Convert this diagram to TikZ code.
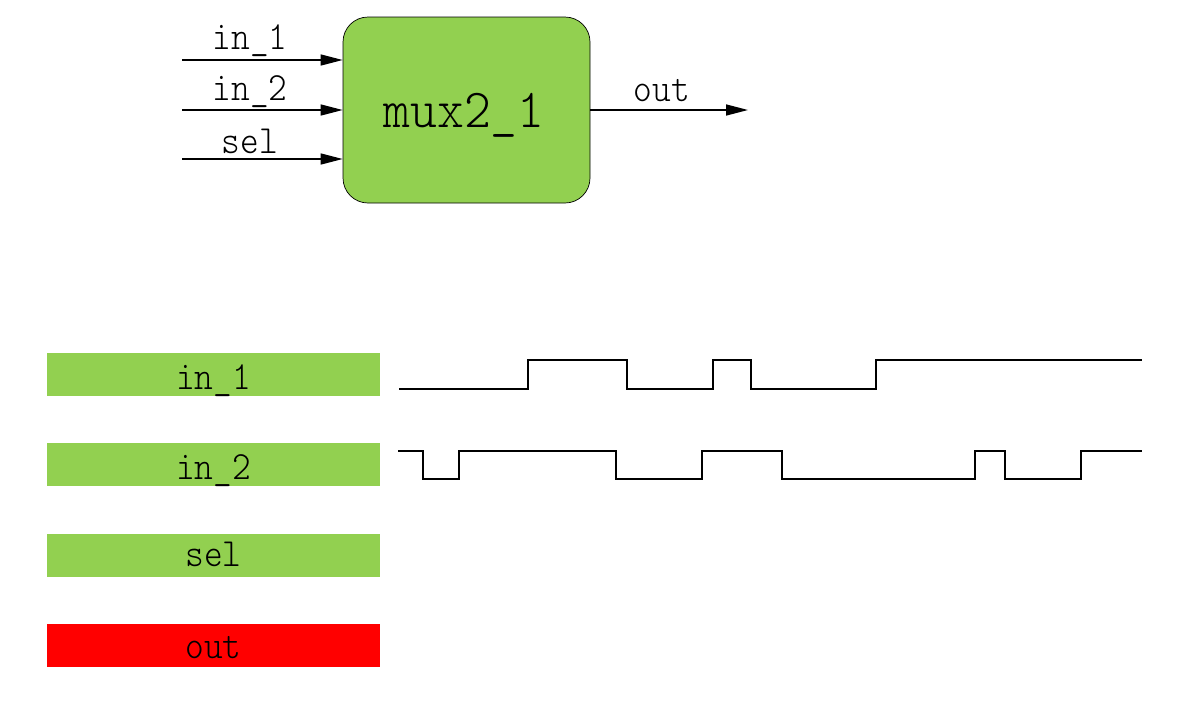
\documentclass[tikz,border=0pt]{standalone}
\usepackage{fontspec}
\setmonofont{lmmonolt10-regular.otf}
\usetikzlibrary{arrows.meta}
\definecolor{boxgreen}{RGB}{146,208,80}
\definecolor{outred}{RGB}{255,0,0}
\tikzset{
  lbl/.style={font=\ttfamily\fontsize{40}{40}\selectfont, inner sep=0pt, anchor=base, xscale=0.89, transform shape},
  biglbl/.style={font=\ttfamily\fontsize{55}{55}\selectfont, inner sep=0pt, anchor=base, xscale=0.93, transform shape},
  arr/.style={line width=1.5pt, -{Triangle[length=22pt,width=11pt]}},
  bar/.style={minimum width=333pt, minimum height=43pt, inner sep=0pt, draw=none},
  wave/.style={line width=1.8pt, line join=miter},
}
\begin{document}
\begin{tikzpicture}[x=1pt,y=-1pt]
\useasboundingbox (0,0) rectangle (1201,702);
% mux block
\node[draw=black, line width=0.7pt, fill=boxgreen, rounded corners=25pt,
      minimum width=247pt, minimum height=186pt, inner sep=0pt] (mux) at (466.5,110) {};
\node[biglbl] (muxlbl) at (464,127) {mux2\_1};
% inputs
\coordinate (i1) at (182,60);
\coordinate (i2) at (182,110);
\coordinate (is) at (182,159);
\coordinate (oe) at (748,110);
\draw[arr] (i1) -- (mux.west |- i1);
\draw[arr] (i2) -- (mux.west |- i2);
\draw[arr] (is) -- (mux.west |- is);
\draw[arr] (mux.east |- oe) -- (oe);
\node[lbl] (l1) at (250,49) {in\_1};
\node[lbl] (l2) at (250,100) {in\_2};
\node[lbl] (ls) at (250,153) {sel};
\node[lbl] (lo) at (662,101) {out};
% signal bars
\node[bar, fill=boxgreen] (b1) at (213.5,374.5) {};
\node[bar, fill=boxgreen] (b2) at (213.5,464.5) {};
\node[bar, fill=boxgreen] (b3) at (213.5,555) {};
\node[bar, fill=outred] (b4) at (213.5,645.5) {};
\node[lbl] (t1) at (213.5,389) {in\_1};
\node[lbl] (t2) at (213.5,479) {in\_2};
\node[lbl] (t3) at (213.5,566) {sel};
\node[lbl] (t4) at (213.5,658) {out};
% waveforms
\draw[wave] (399,389) -| (528,360) -| (627,389) -| (713,360) -| (751,389) -| (876,360) -- (1142,360);
\draw[wave] (398,451) -| (423,479) -| (459,451) -| (616,479) -| (702,451) -| (782,479) -| (975,451) -| (1005,479) -| (1081,451) -- (1142,451);
\end{tikzpicture}
\end{document}
